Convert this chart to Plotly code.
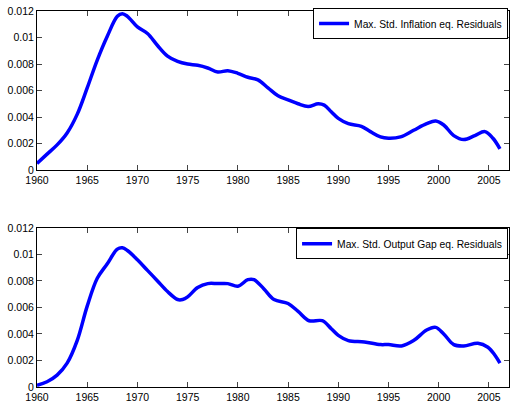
import plotly.graph_objects as go

# Top series: Max. Std. Inflation eq. Residuals
years_infl = [1960, 1961, 1962, 1963, 1964, 1965, 1966, 1967, 1968, 1968.5, 1969, 1970, 1971,
              1972, 1973, 1974, 1975, 1976, 1977, 1978, 1979, 1980, 1981, 1982, 1983, 1984,
              1985, 1986, 1987, 1988, 1988.6, 1989.3, 1990, 1991, 1992.3, 1993.2, 1994.2,
              1995, 1996.2, 1997.5, 1998.8, 1999.7, 2000.5, 2001.5, 2002.5, 2003.6, 2004.6,
              2005.4, 2006.1]
infl = [0.0005, 0.0012, 0.0019, 0.0028, 0.0042, 0.0062, 0.0083, 0.0101, 0.0116, 0.0118, 0.0116,
        0.0108, 0.0103, 0.0094, 0.0086, 0.0082, 0.0080, 0.0079, 0.0077, 0.0074, 0.0075, 0.0073,
        0.0070, 0.0068, 0.0062, 0.0056, 0.0053, 0.0050, 0.0048, 0.0050, 0.0049, 0.0044, 0.0039,
        0.0035, 0.0033, 0.0029, 0.0025, 0.0024, 0.0025, 0.0030, 0.0035, 0.0037, 0.0034, 0.0026,
        0.0023, 0.0026, 0.0029, 0.0024, 0.0016]

# Bottom series: Max. Std. Output Gap eq. Residuals
years_gap = [1960, 1961, 1962, 1963, 1964, 1965, 1966, 1967, 1968, 1968.5, 1969, 1970, 1971,
             1972, 1973, 1974, 1974.5, 1975, 1976, 1977, 1978, 1979, 1980, 1981, 1981.6, 1982.6,
             1983.6, 1985, 1986, 1987.1, 1988.4, 1989.3, 1990, 1991, 1992.6, 1994.2, 1995,
             1996.3, 1997.5, 1998.8, 1999.7, 2000.5, 2001.5, 2002.5, 2003.9, 2004.9, 2005.6,
             2006.1]
gap = [0.00013, 0.0004, 0.0009, 0.0018, 0.0035, 0.0061, 0.0082, 0.0093, 0.0104, 0.0105, 0.0103,
       0.0096, 0.0088, 0.0080, 0.0072, 0.0066, 0.0066, 0.0068, 0.0075, 0.0078, 0.0078, 0.0078,
       0.0076, 0.0081, 0.0081, 0.0074, 0.0066, 0.0063, 0.0057, 0.0050, 0.0050, 0.0044, 0.0039,
       0.0035, 0.0034, 0.0032, 0.0032, 0.0031, 0.0035, 0.0043, 0.0045, 0.0040, 0.0032, 0.0031,
       0.0033, 0.0030, 0.0024, 0.0018]

x_ticks = [1960, 1965, 1970, 1975, 1980, 1985, 1990, 1995, 2000, 2005]
y_ticks = [0, 0.002, 0.004, 0.006, 0.008, 0.01, 0.012]
y_tick_labels = ["0", "0.002", "0.004", "0.006", "0.008", "0.01", "0.012"]

FONT = "Liberation Sans, Arial, sans-serif"
BLUE = "#0000ff"

fig = go.Figure()
fig.add_trace(go.Scatter(x=years_infl, y=infl, mode="lines", name="Max. Std. Inflation eq. Residuals",
                         line=dict(color=BLUE, width=3.5, shape="spline", smoothing=1.0),
                         xaxis="x", yaxis="y", legend="legend"))
fig.add_trace(go.Scatter(x=years_gap, y=gap, mode="lines", name="Max. Std. Output Gap eq. Residuals",
                         line=dict(color=BLUE, width=3.5, shape="spline", smoothing=1.0),
                         xaxis="x2", yaxis="y2", legend="legend2"))

xa = dict(range=[1960, 2007], tickvals=x_ticks, ticks="inside", ticklen=5, mirror="ticks",
          showline=True, linecolor="black", linewidth=1, showgrid=False, zeroline=False,
          tickfont=dict(family=FONT, size=10.5, color="black"), automargin=False)
ya = dict(range=[0, 0.012], tickvals=y_ticks, ticktext=y_tick_labels, ticks="inside", ticklen=5,
          mirror="ticks", showline=True, linecolor="black", linewidth=1, showgrid=False,
          zeroline=False, tickfont=dict(family=FONT, size=10.5, color="black"), automargin=False)

legstyle = dict(bgcolor="white", bordercolor="black", borderwidth=1,
                font=dict(family=FONT, size=10.3, color="black"),
                xanchor="right", yanchor="top", itemwidth=30, tracegroupgap=0)

fig.update_layout(
    width=512, height=401,
    margin=dict(l=37, r=3, t=11, b=14),
    paper_bgcolor="white", plot_bgcolor="white",
    xaxis=dict(xa, domain=[0, 1], anchor="y"),
    yaxis=dict(ya, domain=[0.577, 1], anchor="x"),
    xaxis2=dict(xa, domain=[0, 1], anchor="y2"),
    yaxis2=dict(ya, domain=[0, 0.423], anchor="x2"),
    legend=dict(legstyle, x=0.998, y=1.008),
    legend2=dict(legstyle, x=0.998, y=0.422),
    showlegend=True,
)

fig.write_html("out.html", config={"displayModeBar": False},
               post_script="document.body.style.margin='0';document.body.style.overflow='hidden';")
